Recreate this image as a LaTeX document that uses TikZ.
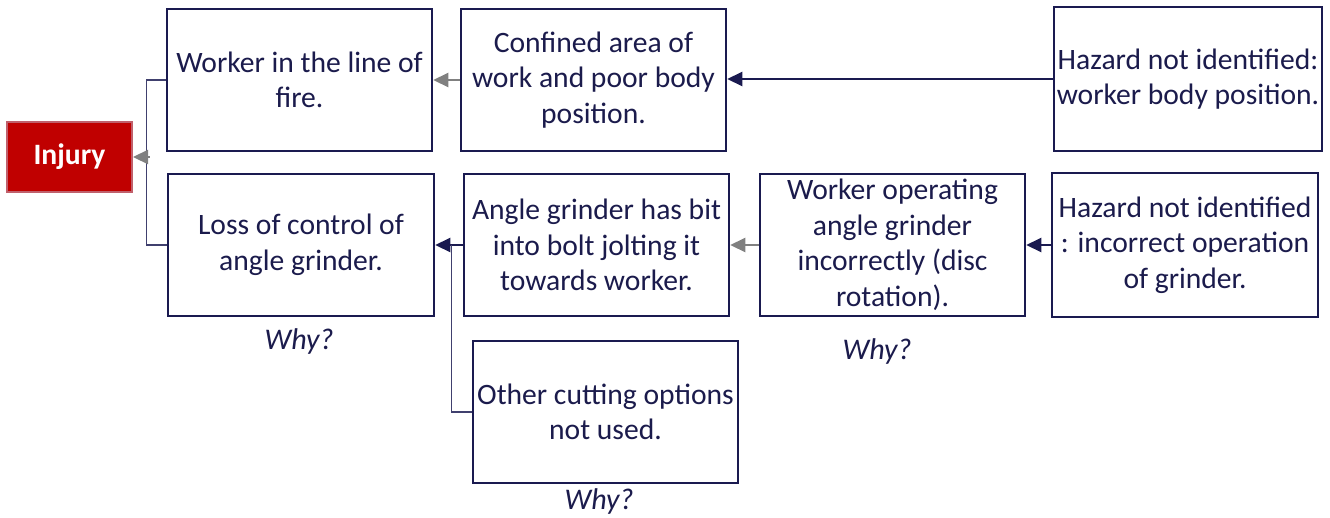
\documentclass[tikz,border=0pt]{standalone}
\usepackage{fontspec}
\setmainfont{Carlito}
\usetikzlibrary{arrows.meta,calc}
\definecolor{navy}{HTML}{1B1B4C}
\definecolor{boxline}{HTML}{1A1A50}
\definecolor{injred}{HTML}{C00000}
\definecolor{injedge}{HTML}{C0606C}
\definecolor{arrgray}{HTML}{808080}
\definecolor{thinnavy}{HTML}{40406E}
\begin{document}
\begin{tikzpicture}[x=1pt,y=-1pt,
  box/.style={draw=boxline,line width=2.5pt,fill=white,minimum width=265pt,minimum height=142pt,
    inner sep=0pt,align=center,text=navy,font=\fontsize{29.6}{35.5}\selectfont},
  injbox/.style={draw=injedge,line width=2pt,fill=injred,minimum width=125pt,minimum height=70pt,
    inner sep=0pt,text=white,font=\fontsize{29.6}{35.5}\selectfont\bfseries},
  why/.style={text=navy,font=\fontsize{30}{36}\selectfont\itshape,inner sep=0pt},
  grayarrow/.style={draw=arrgray,line width=2.2pt,-{Triangle[length=15pt,width=14pt]}},
  darkarrow/.style={draw=boxline,line width=2.2pt,-{Triangle[length=15pt,width=14pt]}},
  bracket/.style={draw=thinnavy,line width=1.3pt}]
\useasboundingbox (0,0) rectangle (1330,517);
\node[injbox] (inj) at (69.5,157) {Injury};
\node[box] (A) at (299.5,80) {Worker in the line of\\fire.};
\node[box] (B) at (593.5,80) {Confined area of\\work and poor body\\position.};
\node[box,minimum width=268pt,minimum height=144pt] (C) at (1188,79) {Hazard not identified:\\worker body position.};
\node[box,minimum width=266pt] (D) at (301,245) {Loss of control of\\angle grinder.};
\node[box] (E) at (596.5,245) {Angle grinder has bit\\into bolt jolting it\\towards worker.};
\node[box] (F) at (892.5,245) {Worker operating\\angle grinder\\incorrectly (disc\\rotation).};
\node[box,minimum width=266pt,minimum height=144pt] (G) at (1185,245) {Hazard not identified\\: incorrect operation\\of grinder.};
\node[box] (H) at (605.5,412) {Other cutting options\\not used.};
\node[why] (w1) at (299,341) {Why?};
\node[why] (w2) at (877,351) {Why?};
\node[why] (w3) at (599,501) {Why?};
% bracket to injury
\coordinate (j) at ($(A.west)+(-19,0)$);
\draw[bracket] (A.west) -- (j) |- (D.west);
\coordinate (jm) at (j |- inj.east);
\draw[grayarrow] ($(jm)+(3,0)$) -- (inj.east);
% chain arrows
\draw[grayarrow] (B.west) -- (A.east);
\draw[darkarrow] (C.west) -- (C.west -| B.east);
\draw[darkarrow] (E.west) -- (D.east);
\draw[grayarrow] (F.west) -- (E.east);
\draw[darkarrow] (G.west) -- (F.east);
\draw[bracket] (H.west) -| ([xshift=-11pt]E.west);
\end{tikzpicture}
\end{document}
